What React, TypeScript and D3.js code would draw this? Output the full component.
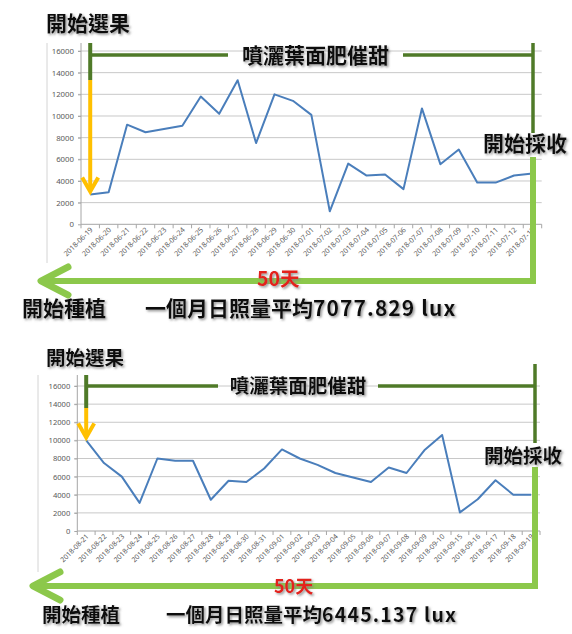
import * as d3 from "d3";
import { useEffect, useRef } from "react";

// daily light readings (lux)
const JUNE_DATES = [
  "2018-06-19", "2018-06-20", "2018-06-21", "2018-06-22", "2018-06-23",
  "2018-06-24", "2018-06-25", "2018-06-26", "2018-06-27", "2018-06-28",
  "2018-06-29", "2018-06-30", "2018-07-01", "2018-07-02", "2018-07-03",
  "2018-07-04", "2018-07-05", "2018-07-06", "2018-07-07", "2018-07-08",
  "2018-07-09", "2018-07-10", "2018-07-11", "2018-07-12", "2018-07-13",
];
const JUNE_LUX = [
  2750, 2950, 9200, 8500, 8800, 9100, 11800, 10200, 13300, 7500, 12000, 11400, 10100,
  1200, 5600, 4500, 4600, 3250, 10700, 5550, 6900, 3850, 3850, 4500, 4700,
];
const JUNE_AVERAGE = "7077.829";

const AUG_DATES = [
  "2018-08-21", "2018-08-22", "2018-08-23", "2018-08-24", "2018-08-25",
  "2018-08-26", "2018-08-27", "2018-08-28", "2018-08-29", "2018-08-30",
  "2018-08-31", "2018-09-01", "2018-09-02", "2018-09-03", "2018-09-04",
  "2018-09-05", "2018-09-06", "2018-09-07", "2018-09-08", "2018-09-09",
  "2018-09-10", "2018-09-15", "2018-09-16", "2018-09-17", "2018-09-18",
  "2018-09-19",
];
const AUG_LUX = [
  10000, 7500, 6000, 3100, 8000, 7750, 7750, 3450, 5550, 5400, 6900, 9000, 8000,
  7300, 6400, 5900, 5400, 7000, 6400, 8900, 10600, 2050, 3500, 5600, 4000, 4000,
];
const AUG_AVERAGE = "6445.137";

const Y_TICKS = [0, 2000, 4000, 6000, 8000, 10000, 12000, 14000, 16000];

const TEXT_PICK = "開始選果";
const TEXT_SPRAY = "噴灑葉面肥催甜";
const TEXT_HARVEST = "開始採收";
const TEXT_PLANT = "開始種植";
const TEXT_DAYS = "50天";
const TEXT_AVERAGE = "一個月日照量平均";

const DARK_GREEN = "#4f7a28";
const LIGHT_GREEN = "#8cc84b";
const GOLD = "#ffc000";
const LINE_BLUE = "#4a7ebb";
const CJK_FONT = "'Noto Sans CJK TC', 'Noto Sans CJK SC', sans-serif";

type Panel = {
  dates: string[];
  lux: number[];
  average: string;
  plotLeft: number;
  plotRight: number;
  zeroY: number;
  fullY: number;
  axisTop: number;
  frameX: number;
  frameBottom: number;
  fontSize: number;
  tickFont: number;
  titleX: number;
  titleY: number;
  sprayY: number;
  sprayTextY: number;
  sprayGap: [number, number];
  pickSplitY: number;
  harvestX: number;
  harvestTop: number;
  harvestGap: [number, number];
  harvestTextX: number;
  harvestTextY: number;
  returnY: number;
  returnTipX: number;
  daysX: number;
  daysY: number;
  footX: number;
  footY: number;
  averageX: number;
  luxSpacing: number;
};

const PANELS: Panel[] = [
  {
    dates: JUNE_DATES, lux: JUNE_LUX, average: JUNE_AVERAGE,
    plotLeft: 81, plotRight: 541.7, zeroY: 224.3, fullY: 51, axisTop: 43,
    frameX: 47, frameBottom: 263, fontSize: 21, tickFont: 7.2,
    titleX: 46, titleY: 31,
    sprayY: 55, sprayTextY: 63, sprayGap: [228, 403], pickSplitY: 80,
    harvestX: 533, harvestTop: 43, harvestGap: [133, 157], harvestTextX: 483, harvestTextY: 151,
    returnY: 281, returnTipX: 41, daysX: 257, daysY: 286,
    footX: 22, footY: 316, averageX: 145, luxSpacing: 1.1,
  },
  {
    dates: AUG_DATES, lux: AUG_LUX, average: AUG_AVERAGE,
    plotLeft: 77.3, plotRight: 540, zeroY: 531, fullY: 386, axisTop: 375,
    frameX: 38, frameBottom: 572, fontSize: 19.5, tickFont: 7,
    titleX: 46, titleY: 365,
    sprayY: 386, sprayTextY: 393, sprayGap: [218, 378], pickSplitY: 408,
    harvestX: 535, harvestTop: 364, harvestGap: [443, 467], harvestTextX: 484, harvestTextY: 463,
    returnY: 586, returnTipX: 33, daysX: 274, daysY: 593,
    footX: 42, footY: 622, averageX: 166, luxSpacing: 1.2,
  },
];

const drawPanel = (root: d3.Selection<SVGGElement, unknown, null, undefined>, panel: Panel) => {
  const g = root.append("g");
  const xScale = d3.scaleBand<string>().domain(panel.dates).range([panel.plotLeft, panel.plotRight]);
  const yScale = d3.scaleLinear().domain([0, 16000]).range([panel.zeroY, panel.fullY]);
  const bw = xScale.bandwidth();
  const cx = (d: string) => (xScale(d) ?? 0) + bw / 2;
  const firstX = cx(panel.dates[0]);

  // chart-area left edge
  g.append("line")
    .attr("x1", panel.frameX).attr("x2", panel.frameX)
    .attr("y1", panel.axisTop).attr("y2", panel.frameBottom)
    .attr("stroke", "#d4d4d4");

  // gridlines
  g.selectAll("line.grid")
    .data(Y_TICKS.filter((t) => t > 0))
    .join("line")
    .attr("class", "grid")
    .attr("x1", panel.plotLeft - 3)
    .attr("x2", panel.plotRight)
    .attr("y1", (t) => yScale(t))
    .attr("y2", (t) => yScale(t))
    .attr("stroke", "#c8c8c8");

  // y axis
  const yAxis = g.append("g")
    .attr("transform", `translate(${panel.plotLeft},0)`)
    .call(d3.axisLeft(yScale).tickValues(Y_TICKS).tickSize(3).tickPadding(4).tickFormat(d3.format("d")));
  yAxis.select(".domain").remove();
  yAxis.selectAll("line").attr("stroke", "#a6a6a6");
  yAxis.selectAll("text")
    .attr("fill", "#595959")
    .style("font-size", `${panel.tickFont + 0.6}px`)
    .style("font-family", "'Noto Sans', sans-serif");
  g.append("line")
    .attr("x1", panel.plotLeft).attr("x2", panel.plotLeft)
    .attr("y1", panel.axisTop).attr("y2", panel.zeroY)
    .attr("stroke", "#a6a6a6");

  // x axis with boundary ticks
  g.append("line")
    .attr("x1", panel.plotLeft).attr("x2", panel.plotRight)
    .attr("y1", panel.zeroY).attr("y2", panel.zeroY)
    .attr("stroke", "#a6a6a6");
  const bounds = [...panel.dates.map((d) => xScale(d) ?? 0), panel.plotRight];
  g.selectAll("line.xtick")
    .data(bounds)
    .join("line")
    .attr("class", "xtick")
    .attr("x1", (x) => x).attr("x2", (x) => x)
    .attr("y1", panel.zeroY).attr("y2", panel.zeroY + 4)
    .attr("stroke", "#a6a6a6");
  g.selectAll("text.xlabel")
    .data(panel.dates)
    .join("text")
    .attr("class", "xlabel")
    .attr("transform", (d) => `translate(${cx(d) + 3},${panel.zeroY + 6}) rotate(-45)`)
    .attr("text-anchor", "end")
    .attr("fill", "#595959")
    .style("font-size", `${panel.tickFont}px`)
    .style("font-family", "'Noto Sans', sans-serif")
    .text((d) => d);

  // the series
  const line = d3.line<number>()
    .x((_, i) => cx(panel.dates[i]))
    .y((v) => yScale(v));
  g.append("path")
    .datum(panel.lux)
    .attr("d", line)
    .attr("fill", "none")
    .attr("stroke", LINE_BLUE)
    .attr("stroke-width", 2)
    .attr("stroke-linejoin", "round");

  // annotations
  const tipY = yScale(panel.lux[0]) - 3;
  const harvestX = panel.harvestX;
  const dark = (x1: number, y1: number, x2: number, y2: number, w = 3.5) =>
    g.append("line")
      .attr("x1", x1).attr("y1", y1).attr("x2", x2).attr("y2", y2)
      .attr("stroke", DARK_GREEN).attr("stroke-width", w);

  dark(firstX, panel.axisTop, firstX, panel.pickSplitY, 4);
  dark(firstX, panel.sprayY, panel.sprayGap[0], panel.sprayY);
  dark(panel.sprayGap[1], panel.sprayY, harvestX, panel.sprayY);
  dark(harvestX, panel.harvestTop, harvestX, panel.harvestGap[0]);

  g.append("line")
    .attr("x1", firstX).attr("x2", firstX)
    .attr("y1", panel.pickSplitY).attr("y2", tipY - 1)
    .attr("stroke", GOLD).attr("stroke-width", 4);
  g.append("path")
    .attr("d", `M${firstX - 8},${tipY - 14}L${firstX},${tipY}L${firstX + 8},${tipY - 14}`)
    .attr("fill", "none")
    .attr("stroke", GOLD).attr("stroke-width", 4)
    .attr("stroke-linejoin", "miter");

  g.append("path")
    .attr("d", `M${harvestX},${panel.harvestGap[1]}V${panel.returnY}H${panel.returnTipX + 4}`)
    .attr("fill", "none")
    .attr("stroke", LIGHT_GREEN).attr("stroke-width", 6);
  g.append("path")
    .attr("d", `M${panel.returnTipX + 27},${panel.returnY - 14}L${panel.returnTipX},${panel.returnY}L${panel.returnTipX + 27},${panel.returnY + 14}`)
    .attr("fill", "none")
    .attr("stroke", LIGHT_GREEN).attr("stroke-width", 7)
    .attr("stroke-linecap", "round")
    .attr("stroke-linejoin", "round");

  const label = (text: string, x: number, y: number, anchor = "start", fill = "#111") =>
    g.append("text")
      .attr("x", x).attr("y", y)
      .attr("text-anchor", anchor)
      .attr("fill", fill)
      .attr("filter", "url(#soft-shadow)")
      .style("font-family", CJK_FONT)
      .style("font-weight", 700)
      .style("font-size", `${panel.fontSize}px`)
      .text(text);

  label(TEXT_PICK, panel.titleX, panel.titleY);
  label(TEXT_SPRAY, (panel.sprayGap[0] + panel.sprayGap[1]) / 2, panel.sprayTextY, "middle");
  label(TEXT_HARVEST, panel.harvestTextX, panel.harvestTextY);
  label(TEXT_PLANT, panel.footX, panel.footY);
  const avg = label(TEXT_AVERAGE, panel.averageX, panel.footY);
  avg.append("tspan")
    .style("letter-spacing", `${panel.luxSpacing}px`)
    .text(`${panel.average} lux`);
  label(TEXT_DAYS, panel.daysX, panel.daysY, "start", "#e3211c").style("font-size", `${panel.fontSize - 1.5}px`);
};

const App = () => {
  const svgRef = useRef<SVGSVGElement | null>(null);

  useEffect(() => {
    if (!svgRef.current) return;
    const svg = d3.select(svgRef.current);
    svg.selectAll("*").remove();

    svg.append("defs")
      .append("filter")
      .attr("id", "soft-shadow")
      .attr("x", "-10%").attr("y", "-20%")
      .attr("width", "130%").attr("height", "150%")
      .append("feDropShadow")
      .attr("dx", 1.5).attr("dy", 1.5)
      .attr("stdDeviation", 0.9)
      .attr("flood-color", "#808080")
      .attr("flood-opacity", 0.85);

    svg.append("rect").attr("width", 572).attr("height", 634).attr("fill", "white");
    const root = svg.append("g");
    PANELS.forEach((panel) => drawPanel(root, panel));
  }, []);

  return (
    <svg
      ref={svgRef}
      width={572}
      height={634}
      style={{ position: "absolute", left: 0, top: 0, background: "white" }}
    />
  );
};

export default App;
